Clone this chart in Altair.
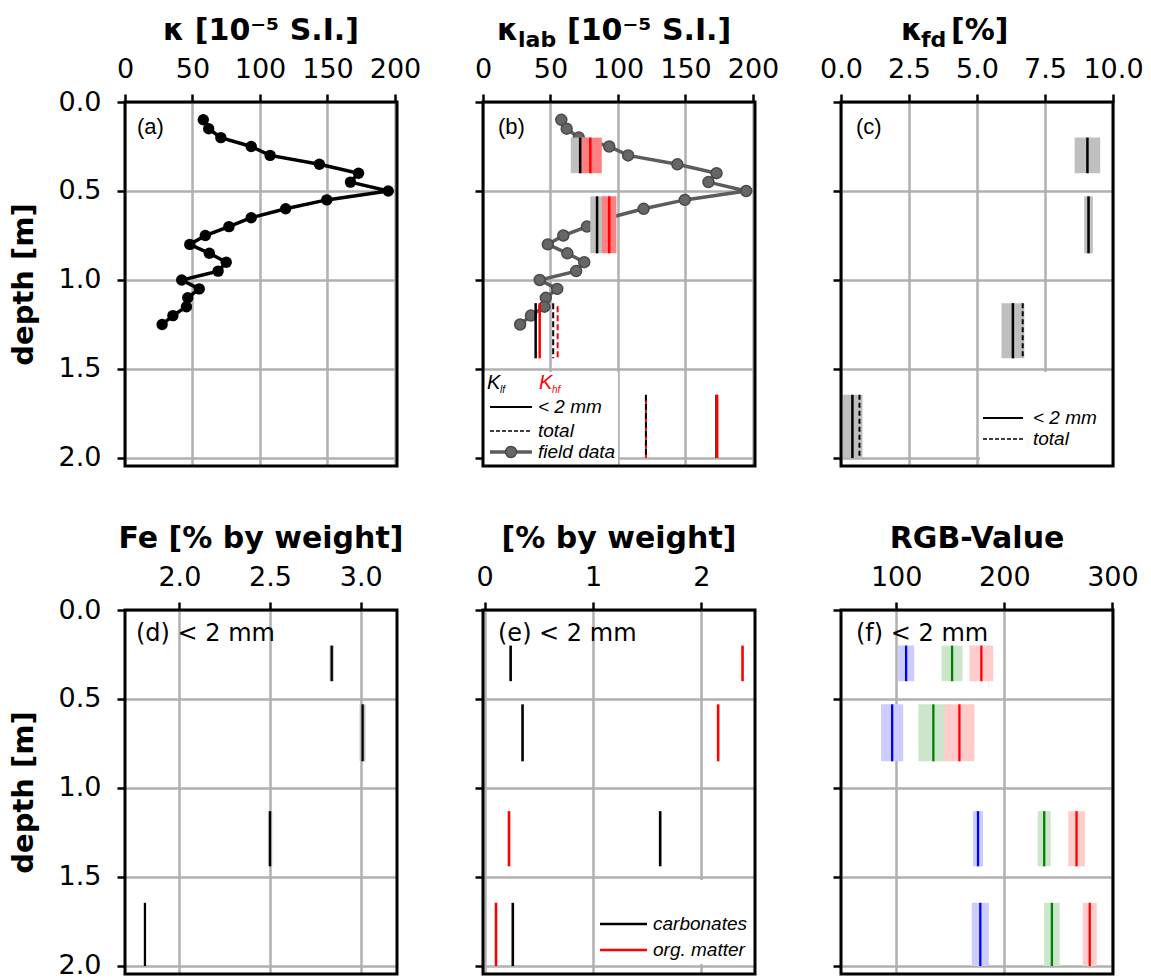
import altair as alt
import pandas as pd

# ---------------- data ----------------
depth_field = [0.10, 0.15, 0.20, 0.25, 0.30, 0.35, 0.40, 0.45, 0.50, 0.55, 0.60, 0.65,
               0.70, 0.75, 0.80, 0.85, 0.90, 0.95, 1.00, 1.05, 1.10, 1.15, 1.20, 1.25]
kappa_field = [58.0, 62.0, 71.0, 93.5, 107.5, 144.0, 173.0, 167.0, 195.0, 149.5, 119.0, 93.5,
               77.0, 59.5, 48.0, 62.5, 75.0, 69.0, 42.0, 55.0, 46.5, 45.5, 35.5, 27.5]

sample_top = [0.20, 0.53, 1.13, 1.645]
sample_bottom = [0.40, 0.85, 1.44, 2.00]

klf_fine = [72.0, 84.5, 39.0, 173.0]
klf_fine_sd = [7.0, 5.0, 0.0, 0.0]
khf_fine = [79.5, 93.5, 42.0, 173.5]
khf_fine_sd = [8.5, 5.3, 0.0, 0.0]
klf_total = [None, None, 52.0, 120.7]
khf_total = [None, None, 55.3, 120.7]

kfd_fine = [9.06, 9.10, 6.32, 0.42]
kfd_fine_sd = [0.47, 0.16, 0.42, 0.37]
kfd_total = [None, None, 6.68, 0.68]

fe_fine = [2.84, 3.01, 2.50, 1.81]
fe_fine_sd = [0.012, 0.016, 0.012, 0.0]

carbonates = [0.24, 0.35, 1.62, 0.26]
org_matter = [2.38, 2.155, 0.225, 0.105]

rgb_red = [178.8, 158.5, 266.8, 279.0]
rgb_red_sd = [11.0, 13.9, 7.7, 6.4]
rgb_green = [151.7, 134.4, 236.9, 244.0]
rgb_green_sd = [9.7, 13.9, 6.0, 7.2]
rgb_blue = [109.2, 96.3, 175.7, 177.8]
rgb_blue_sd = [7.5, 10.2, 4.6, 7.9]

depth_ticks = [0.0, 0.5, 1.0, 1.5, 2.0]
kappa_ticks = [0, 50, 100, 150, 200]
kfd_ticks = [0.0, 2.5, 5.0, 7.5, 10.0]
fe_ticks = [2.0, 2.5, 3.0]
weight_ticks = [0, 1, 2]
rgb_ticks = [100, 200, 300]

# ---------------- helpers ----------------
W, H = 272, 364
FONT = "DejaVu Sans"
SANS = "Liberation Sans"
one = pd.DataFrame({"k": [0]})


def samples(values, sd=None):
    rows = []
    for i, v in enumerate(values):
        if v is None:
            continue
        s = sd[i] if sd is not None else 0.0
        rows.append({"v": v, "lo": v - s, "hi": v + s, "top": sample_top[i],
                     "bottom": sample_bottom[i], "sd": s})
    return pd.DataFrame(rows)


def X(field, dom, values, fmt):
    return alt.X(field, type="quantitative",
                 scale=alt.Scale(domain=dom, nice=False, zero=False),
                 axis=alt.Axis(orient="top", values=values, format=fmt, title=None,
                               labelPadding=11))


def Y(field, left):
    if left:
        ax = alt.Axis(values=depth_ticks, format=".1f", title="depth [m]",
                      titleFont=FONT, titleFontWeight="bold", titleFontSize=29,
                      titleColor="black", titlePadding=20, labelPadding=16)
    else:
        ax = alt.Axis(values=depth_ticks, labels=False, title=None)
    return alt.Y(field, type="quantitative",
                 scale=alt.Scale(domain=[0, 2.045], reverse=True, nice=False, zero=False),
                 axis=ax)


def txt(s, x, y, size, font=FONT, weight="normal", style="normal", color="black",
        align="left", baseline="middle"):
    return alt.Chart(one).mark_text(text=s, font=font, fontSize=size, fontWeight=weight,
                                    fontStyle=style, color=color, align=align,
                                    baseline=baseline).encode(x=alt.value(x), y=alt.value(y))


def hline(x0, x1, y, color="black", width=2.0, dash=None):
    kw = {"color": color, "strokeWidth": width}
    if dash:
        kw["strokeDash"] = dash
    return alt.Chart(one).mark_rule(**kw).encode(x=alt.value(x0), x2=alt.value(x1), y=alt.value(y))


def box(x0, x1, y0, y1):
    return alt.Chart(one).mark_rect(color="white").encode(
        x=alt.value(x0), x2=alt.value(x1), y=alt.value(y0), y2=alt.value(y1))


def frame():
    return alt.Chart(one).mark_rect(fillOpacity=0, stroke="black", strokeWidth=3).encode(
        x=alt.value(0), x2=alt.value(W), y=alt.value(0), y2=alt.value(H))


def band(df, dom, ticks, fmt, left, color):
    return alt.Chart(df).mark_rect(color=color).encode(
        x=X("lo", dom, ticks, fmt), x2="hi", y=Y("top", left), y2="bottom")


def vrule(df, dom, ticks, fmt, left, color, width=2.5, dash=None, offset=None):
    kw = {"color": color, "strokeWidth": width}
    if dash:
        kw["strokeDash"] = dash
    if offset is not None:
        kw["strokeDashOffset"] = offset
    return alt.Chart(df).mark_rule(**kw).encode(
        x=X("v", dom, ticks, fmt), y=Y("top", left), y2="bottom")


TITLE_Y = -62
TS = 30

# ---------------- (a) ----------------
dom_k = [0, 201.5]
df_field = pd.DataFrame({"depth": depth_field, "kappa": kappa_field})
pa = alt.layer(
    alt.Chart(df_field).mark_line(color="black", strokeWidth=3.5).encode(
        x=X("kappa", dom_k, kappa_ticks, "d"), y=Y("depth", True), order="depth:Q"),
    alt.Chart(df_field).mark_circle(color="black", size=130, opacity=1).encode(
        x=X("kappa", dom_k, kappa_ticks, "d"), y=Y("depth", True)),
    txt("(a)", 12, 25, 22, font=SANS),
    txt("κ [10⁻⁵ S.I.]", W / 2, TITLE_Y, TS, weight="bold", align="center", baseline="alphabetic"),
    frame(),
).properties(width=W, height=H)

# ---------------- (b) ----------------
b_lf = samples(klf_fine, klf_fine_sd)
b_hf = samples(khf_fine, khf_fine_sd)
b_lf_band = b_lf[b_lf["sd"] > 0]
b_hf_band = b_hf[b_hf["sd"] > 0]
b_lft = samples(klf_total)
b_hft = samples(khf_total)
pb = alt.layer(
    alt.Chart(df_field).mark_line(color="#5c5c5c", strokeWidth=3.5).encode(
        x=X("kappa", dom_k, kappa_ticks, "d"), y=Y("depth", False), order="depth:Q"),
    alt.Chart(df_field).mark_circle(color="#666666", stroke="#4a4a4a", strokeWidth=1.5,
                                    size=120, opacity=1).encode(
        x=X("kappa", dom_k, kappa_ticks, "d"), y=Y("depth", False)),
    band(b_lf_band, dom_k, kappa_ticks, "d", False, "#bfbfbf"),
    band(b_hf_band, dom_k, kappa_ticks, "d", False, "#ff8080"),
    vrule(b_lf, dom_k, kappa_ticks, "d", False, "black"),
    vrule(b_hf, dom_k, kappa_ticks, "d", False, "red"),
    vrule(b_hft, dom_k, kappa_ticks, "d", False, "red", 2.0, [6, 3], 6),
    vrule(b_lft, dom_k, kappa_ticks, "d", False, "black", 2.0, [6, 3]),
    box(0, 135, 270, H),
    txt("K", 4, 287, 20, font=SANS, style="italic", baseline="alphabetic"),
    txt("lf", 17, 291, 10, font=SANS, style="italic", baseline="alphabetic"),
    txt("K", 56, 287, 20, font=SANS, style="italic", color="red", baseline="alphabetic"),
    txt("hf", 69, 291, 10, font=SANS, style="italic", color="red", baseline="alphabetic"),
    hline(7, 49, 305, "black", 2.0),
    txt("< 2 mm", 55, 305, 19, font=SANS, style="italic"),
    hline(7, 49, 329, "black", 1.5, [4, 2]),
    txt("total", 55, 329, 19, font=SANS, style="italic"),
    hline(7, 49, 350, "#5c5c5c", 3.5),
    alt.Chart(one).mark_circle(color="#666666", stroke="#4a4a4a", strokeWidth=1.5,
                               size=120, opacity=1).encode(x=alt.value(28), y=alt.value(350)),
    txt("field data", 55, 350, 19, font=SANS, style="italic"),
    txt("(b)", 15, 25, 22, font=SANS),
    txt("κ", 14, TITLE_Y, TS, weight="bold", align="left", baseline="alphabetic"),
    txt("lab", 35, TITLE_Y + 7, 22, weight="bold", align="left", baseline="alphabetic"),
    txt("[10⁻⁵ S.I.]", 84, TITLE_Y, TS, weight="bold", align="left", baseline="alphabetic"),
    frame(),
).properties(width=W, height=H)

# ---------------- (c) ----------------
dom_c = [0, 10.0]
c_fine = samples(kfd_fine, kfd_fine_sd)
c_tot = samples(kfd_total)
pc = alt.layer(
    band(c_fine, dom_c, kfd_ticks, ".1f", False, "#bfbfbf"),
    vrule(c_fine, dom_c, kfd_ticks, ".1f", False, "black"),
    vrule(c_tot, dom_c, kfd_ticks, ".1f", False, "black", 2.0, [5, 3]),
    box(139, W, 270, H),
    hline(142, 182, 316, "black", 2.0),
    txt("< 2 mm", 192, 316, 19, font=SANS, style="italic"),
    hline(142, 182, 337, "black", 1.5, [4, 2]),
    txt("total", 192, 337, 19, font=SANS, style="italic"),
    txt("(c)", 15, 25, 22, font=SANS),
    txt("κ", 60, TITLE_Y, TS, weight="bold", align="left", baseline="alphabetic"),
    txt("fd", 80, TITLE_Y + 7, 22, weight="bold", align="left", baseline="alphabetic"),
    txt("[%]", 110, TITLE_Y, TS, weight="bold", align="left", baseline="alphabetic"),
    frame(),
).properties(width=W, height=H)

# ---------------- (d) ----------------
dom_d = [1.70, 3.20]
d_fe = samples(fe_fine, fe_fine_sd)
pd_ = alt.layer(
    band(d_fe[d_fe["sd"] > 0], dom_d, fe_ticks, ".1f", True, "#bfbfbf"),
    vrule(d_fe, dom_d, fe_ticks, ".1f", True, "black", 2.3),
    txt("(d)  < 2 mm", 11, 24, 24),
    txt("Fe [% by weight]", W / 2, TITLE_Y, TS, weight="bold", align="center", baseline="alphabetic"),
    frame(),
).properties(width=W, height=H)

# ---------------- (e) ----------------
dom_e = [-0.015, 2.495]
e_carb = samples(carbonates)
e_org = samples(org_matter)
pe = alt.layer(
    vrule(e_carb, dom_e, weight_ticks, "d", False, "black", 2.6),
    vrule(e_org, dom_e, weight_ticks, "d", False, "red", 2.6),
    box(113, 270, 270, 354),
    hline(117, 164, 314, "black", 2.6),
    txt("carbonates", 170, 314, 19, font=SANS, style="italic"),
    hline(117, 164, 340, "red", 2.6),
    txt("org. matter", 170, 340, 19, font=SANS, style="italic"),
    txt("(e) < 2 mm", 15, 24, 24),
    txt("[% by weight]", W / 2, TITLE_Y, TS, weight="bold", align="center", baseline="alphabetic"),
    frame(),
).properties(width=W, height=H)

# ---------------- (f) ----------------
dom_f = [49, 300.5]
f_r = samples(rgb_red, rgb_red_sd)
f_g = samples(rgb_green, rgb_green_sd)
f_b = samples(rgb_blue, rgb_blue_sd)
pf = alt.layer(
    band(f_b, dom_f, rgb_ticks, "d", False, "#ccccff"),
    band(f_g, dom_f, rgb_ticks, "d", False, "#cce6cc"),
    band(f_r, dom_f, rgb_ticks, "d", False, "#ffcccc"),
    vrule(f_b, dom_f, rgb_ticks, "d", False, "blue", 2.3),
    vrule(f_g, dom_f, rgb_ticks, "d", False, "green", 2.3),
    vrule(f_r, dom_f, rgb_ticks, "d", False, "red", 2.3),
    txt("(f)  < 2 mm", 15, 24, 24),
    txt("RGB-Value", W / 2, TITLE_Y, TS, weight="bold", align="center", baseline="alphabetic"),
    frame(),
).properties(width=W, height=H)

chart = alt.concat(
    pa, pb, pc, pd_, pe, pf, columns=3,
    spacing={"row": 144, "column": 86}, bounds="flush",
    padding={"left": 9, "top": 16, "right": 5, "bottom": 5},
).configure_view(
    strokeWidth=0
).configure_axis(
    labelFont=FONT, labelFontSize=27, labelColor="black", labelFlush=False,
    labelOverlap=False, tickColor="black", tickWidth=2.5, tickSize=8,
    domain=False, grid=True, gridColor="#b0b0b0", gridWidth=2.5, gridOpacity=1,
)

chart.save("out.html", embed_options={"renderer": "svg", "actions": False})
